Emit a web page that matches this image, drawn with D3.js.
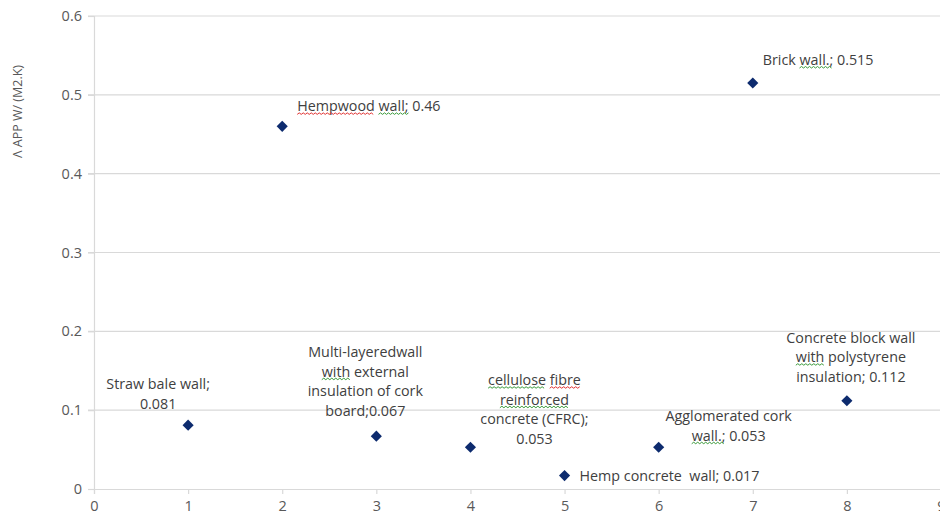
<!DOCTYPE html>
<html><head><meta charset="utf-8">
<script src="https://cdn.jsdelivr.net/npm/d3@7"></script>
<style>
body{margin:0;background:#fff;}
text{font-family:"Open Sans","Liberation Sans",sans-serif;white-space:pre;}
</style></head>
<body><svg id="c" width="940" height="522"></svg>
<script>
// ---- data ----
const xValues = [1, 2, 3, 4, 5, 6, 7, 8];
const yValues = [0.081, 0.46, 0.067, 0.053, 0.017, 0.053, 0.515, 0.112];
const labels = [
  ["Straw bale wall;", "0.081"],
  ["Hempwood wall; 0.46"],
  ["Multi-layeredwall", "with external", "insulation of cork", "board;0.067"],
  ["cellulose fibre", "reinforced", "concrete (CFRC);", "0.053"],
  ["Hemp concrete  wall; 0.017"],
  ["Agglomerated cork", "wall.; 0.053"],
  ["Brick wall.; 0.515"],
  ["Concrete block wall", "with polystyrene", "insulation; 0.112"]
];
const xTicks = [0, 1, 2, 3, 4, 5, 6, 7, 8, 9];
const yTicks = [0, 0.1, 0.2, 0.3, 0.4, 0.5, 0.6];
const yTitle = "Λ APP W/ (M2.K)";
// spell-check squiggles: [label index, line index, word, colour]
const squiggles = [
  [1, 0, "Hempwood", "#e03030"], [1, 0, "wall;", "#3a9a3a"],
  [2, 1, "with", "#3a9a3a"],
  [3, 0, "cellulose", "#3a9a3a"], [3, 0, "fibre", "#e03030"],
  [3, 1, "reinforced", "#3a9a3a"],
  [5, 1, "wall.;", "#3a9a3a"],
  [6, 0, "wall.;", "#3a9a3a"],
  [7, 1, "with", "#3a9a3a"]
];
// label layout relative to its point: dx, dy of first line centre, anchor
const labelLayout = [
  [-30, -41, "middle"], [15, -20, "start"], [-11, -84, "middle"], [64, -67, "middle"],
  [15, 0, "start"], [70, -31, "middle"], [10, -23, "start"], [4, -63, "middle"]
];

const svg = d3.select("#c");
const x = d3.scaleLinear().domain([0, 9]).range([94, 941]);
const y = d3.scaleLinear().domain([0, 0.6]).range([489, 16]);
const lineH = 19.5;

// gridlines
svg.append("g").selectAll("line").data(yTicks.slice(1)).join("line")
  .attr("x1", x(0) - 6).attr("x2", 940)
  .attr("y1", d => y(d)).attr("y2", d => y(d))
  .attr("stroke", "#d9d9d9").attr("stroke-width", 1.2);

// y axis
const yAxis = svg.append("g").attr("transform", `translate(${x(0)},0)`)
  .call(d3.axisLeft(y).tickValues(yTicks).tickSize(6).tickFormat(d => d === 0 ? "0" : d3.format(".1f")(d)));
yAxis.select(".domain").attr("stroke", "#d9d9d9").attr("stroke-width", 1.2);
yAxis.selectAll(".tick line").attr("stroke", "#d9d9d9").attr("stroke-width", 1.2);
yAxis.selectAll("text").attr("fill", "#595959").attr("font-size", 14.5).attr("dx", -3);

// x axis
const xAxis = svg.append("g").attr("transform", `translate(0,${y(0)})`)
  .call(d3.axisBottom(x).tickValues(xTicks).tickSize(5).tickFormat(d3.format("d")));
xAxis.select(".domain").attr("stroke", "#d9d9d9").attr("stroke-width", 1.2);
xAxis.selectAll(".tick line").attr("stroke", "#d9d9d9").attr("stroke-width", 1.2);
xAxis.selectAll("text").attr("fill", "#595959").attr("font-size", 14.5).attr("dy", "0.95em");

// y title
svg.append("text").attr("transform", "translate(22,158) rotate(-90)")
  .attr("text-anchor", "start").attr("fill", "#595959").attr("font-size", 12.5)
  .text(yTitle);

// points
const pts = xValues.map((v, i) => ({x: v, y: yValues[i], lab: labels[i], lay: labelLayout[i]}));
svg.append("g").selectAll("path").data(pts).join("path")
  .attr("d", d3.symbol(d3.symbolSquare, 62)())
  .attr("transform", d => `translate(${x(d.x)},${y(d.y)}) rotate(45)`)
  .attr("fill", "#0d2b6e");

// labels
const lg = svg.append("g");
const textNodes = [];
pts.forEach((d, i) => {
  const [dx, dy, anchor] = d.lay;
  const t = lg.append("text").attr("font-size", 14.3).attr("fill", "#404040")
    .attr("text-anchor", anchor);
  const lines = [];
  d.lab.forEach((ln, j) => {
    const ts = t.append("tspan").attr("x", x(d.x) + dx)
      .attr("y", y(d.y) + dy + j * lineH).attr("dy", "0.35em").text(ln);
    lines.push(ts);
  });
  textNodes.push(lines);
});

// squiggles
const sq = svg.append("g");
squiggles.forEach(([li, ln, word, col]) => {
  const ts = textNodes[li][ln];
  const node = ts.node();
  const str = node.textContent;
  const idx = str.indexOf(word);
  if (idx < 0) return;
  const start = node.getStartPositionOfChar(idx);
  const end = node.getEndPositionOfChar(idx + word.length - 1);
  const by = start.y + 3;
  let p = `M${start.x},${by}`;
  let up = true;
  for (let xx = start.x + 2; xx <= end.x; xx += 2) {
    p += `L${xx},${by + (up ? -1.5 : 0)}`;
    up = !up;
  }
  sq.append("path").attr("d", p).attr("fill", "none").attr("stroke", col).attr("stroke-width", 1);
});
</script></body></html>
